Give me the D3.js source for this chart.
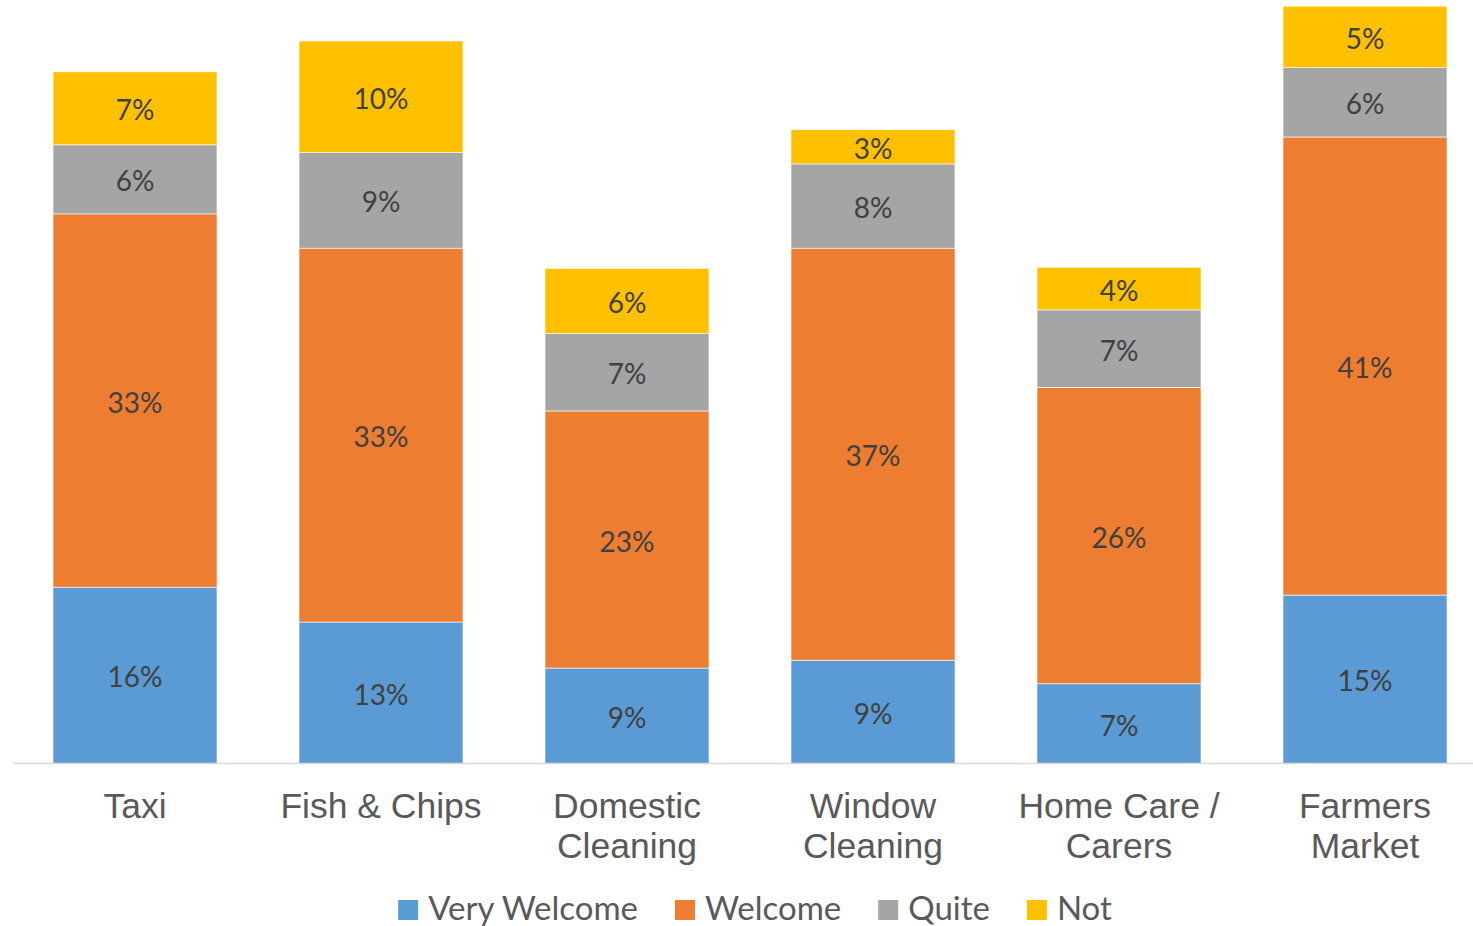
<!DOCTYPE html>
<html lang="en">
<head>
<meta charset="utf-8">
<title>Welcome survey</title>
<script src="https://cdn.jsdelivr.net/npm/d3@7"></script>
<style>
  html, body { margin: 0; padding: 0; background: #fff; overflow: hidden; }
  .cat { font-family: "Liberation Sans", Arial, sans-serif; font-size: 35.5px; fill: #595959; }
  .val { font-family: Lato, "Open Sans", sans-serif; font-size: 28px; fill: #404040; }
  .leg { font-family: Lato, "Open Sans", sans-serif; font-size: 33px; fill: #595959; }
</style>
</head>
<body>
<div id="chart"></div>
<script>
// categories (label lines)
var categories = ["Taxi", "Fish & Chips", "Domestic Cleaning", "Window Cleaning", "Home Care / Carers", "Farmers Market"];
var catLines = [["Taxi"], ["Fish & Chips"], ["Domestic", "Cleaning"], ["Window", "Cleaning"], ["Home Care /", "Carers"], ["Farmers", "Market"]];

// series values (% of respondents)
var seriesNames = ["Very Welcome", "Welcome", "Quite", "Not"];
var veryWelcome = [15.7, 12.6, 8.5, 9.2, 7.1, 15.0];
var welcome     = [33.25, 33.3, 22.9, 36.7, 26.4, 40.8];
var quite       = [6.15, 8.5, 6.9, 7.5, 6.9, 6.2];
var notWelcome  = [6.5, 9.95, 5.8, 3.05, 3.8, 5.45];
var colors = ["#5B9BD5", "#ED7D31", "#A5A5A5", "#FFC000"];

var W = 1473, H = 926;
var baseline = 763.5;

var svg = d3.select("#chart").append("svg")
  .attr("width", W).attr("height", H);

var rows = categories.map(function(c, i) {
  return { cat: c, "Very Welcome": veryWelcome[i], "Welcome": welcome[i], "Quite": quite[i], "Not": notWelcome[i] };
});

var stack = d3.stack().keys(seriesNames);
var layers = stack(rows);

var x = d3.scaleBand()
  .domain(categories)
  .range([12, 1488])
  .paddingInner(1 / 3)
  .paddingOuter(1 / 6);

var y = d3.scaleLinear()
  .domain([0, 68])
  .range([baseline, 0]);

var color = d3.scaleOrdinal().domain(seriesNames).range(colors);

var g = svg.selectAll("g.layer")
  .data(layers)
  .enter().append("g")
  .attr("class", "layer")
  .attr("fill", function(d) { return color(d.key); });

g.selectAll("rect")
  .data(function(d) { return d; })
  .enter().append("rect")
  .attr("x", function(d) { return x(d.data.cat); })
  .attr("y", function(d) { return y(d[1]); })
  .attr("width", x.bandwidth())
  .attr("height", function(d) { return y(d[0]) - y(d[1]); })
  .attr("stroke", "#fff")
  .attr("stroke-width", 0.6);

// data labels
var fmt = d3.format(".0f");
g.selectAll("text")
  .data(function(d) { return d; })
  .enter().append("text")
  .attr("class", "val")
  .attr("text-anchor", "middle")
  .attr("dominant-baseline", "central")
  .attr("x", function(d) { return x(d.data.cat) + x.bandwidth() / 2; })
  .attr("y", function(d) { return (y(d[0]) + y(d[1])) / 2 + 1; })
  .text(function(d) { return fmt(d[1] - d[0]) + "%"; });

// axis line
svg.append("line")
  .attr("x1", 13).attr("x2", W)
  .attr("y1", baseline).attr("y2", baseline)
  .attr("stroke", "#d9d9d9").attr("stroke-width", 1.5);

// category labels
var cl = svg.selectAll("text.cat")
  .data(categories)
  .enter().append("text")
  .attr("class", "cat")
  .attr("text-anchor", "middle")
  .attr("x", function(d) { return x(d) + x.bandwidth() / 2; })
  .attr("y", 818);
cl.selectAll("tspan")
  .data(function(d, i) { return catLines[i]; })
  .enter().append("tspan")
  .attr("x", function() { var c = d3.select(this.parentNode).datum(); return x(c) + x.bandwidth() / 2; })
  .attr("dy", function(d, i) { return i === 0 ? 0 : 40; })
  .text(function(d) { return d; });

// legend
var legend = svg.append("g");
var items = legend.selectAll("g")
  .data(seriesNames)
  .enter().append("g");
items.append("rect")
  .attr("width", 20).attr("height", 20)
  .attr("y", 900)
  .attr("fill", function(d) { return color(d); });
items.append("text")
  .attr("class", "leg")
  .attr("x", 30)
  .attr("y", 920)
  .text(function(d) { return d; });

var offset = 0;
items.each(function() {
  var tw = d3.select(this).select("text").node().getComputedTextLength();
  this._x = offset;
  offset += 30 + tw + 37;
});
var total = offset - 37;
var start = 755 - total / 2;
items.attr("transform", function() { return "translate(" + (start + this._x) + ",0)"; });
</script>
</body>
</html>
